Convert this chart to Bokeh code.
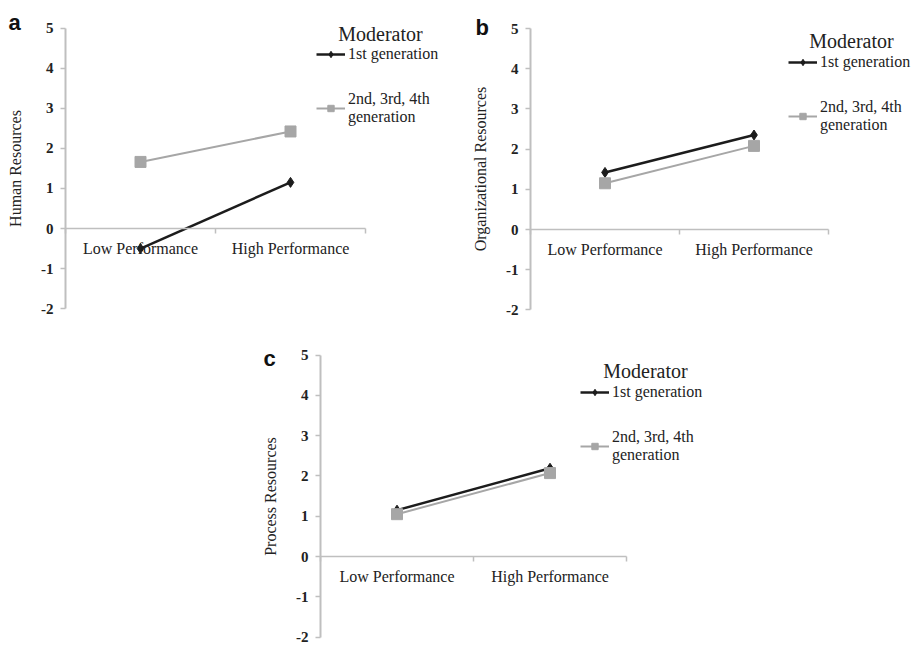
from bokeh.plotting import figure
from bokeh.layouts import column, row
from bokeh.models import (Range1d, FixedTicker, Label, Legend, LegendItem, Spacer)
from bokeh.embed import file_html
from bokeh.resources import INLINE

# ---------------- data ----------------
categories = ["Low Performance", "High Performance"]
series_names = ["1st generation", "2nd, 3rd, 4th\ngeneration"]
y_ticks = [-2, -1, 0, 1, 2, 3, 4, 5]

a_first = [-0.50, 1.15]
a_later = [1.66, 2.42]
b_first = [1.42, 2.35]
b_later = [1.15, 2.08]
c_first = [1.15, 2.19]
c_later = [1.05, 2.07]

panel_letters = ["a", "b", "c"]
y_titles = ["Human Resources", "Organizational Resources", "Process Resources"]
legend_title = "Moderator"

SERIF = "Liberation Serif"
AXIS_GRAY = "#bfbfbf"
BLACK = "#1c1c1c"
GRAY = "#a6a6a6"
TXT = "#222222"

x_pos = [i + 0.5 for i in range(len(categories))]


def make_panel(first, later, letter, ytitle, W, H, left, top,
               ox, sx, oy, sy, letter_xy, mod_xy, leg_xy):
    # ox, oy: screen position of data origin; sx, sy: px per unit
    xr = Range1d((left - ox) / sx, (left + W - ox) / sx)
    yr = Range1d((oy - (top + H)) / sy, (oy - top) / sy)
    p = figure(width=W, height=H, x_range=xr, y_range=yr,
               output_backend="svg", toolbar_location=None,
               min_border=0, min_border_left=0, min_border_right=0,
               min_border_top=0, min_border_bottom=0)
    p.outline_line_color = None
    p.grid.visible = False
    p.background_fill_color = "white"
    p.border_fill_color = "white"

    # x axis crossing at y = 0
    xa = p.xaxis[0]
    xa.fixed_location = 0
    xa.bounds = (0, len(categories))
    xa.ticker = FixedTicker(ticks=x_pos, minor_ticks=list(range(len(categories) + 1)))
    xa.major_label_overrides = {x: c for x, c in zip(x_pos, categories)}
    xa.axis_line_color = AXIS_GRAY
    xa.axis_line_width = 1.5
    xa.major_tick_out = 0
    xa.major_tick_in = 0
    xa.minor_tick_out = 5
    xa.minor_tick_in = 0
    xa.minor_tick_line_color = AXIS_GRAY
    xa.minor_tick_line_width = 1.5
    xa.major_label_standoff = 6
    xa.major_label_text_font = SERIF
    xa.major_label_text_font_size = "16px"
    xa.major_label_text_color = TXT

    # y axis at x = 0
    ya = p.yaxis[0]
    ya.fixed_location = 0
    ya.bounds = (min(y_ticks), max(y_ticks))
    ya.ticker = FixedTicker(ticks=y_ticks, minor_ticks=[])
    ya.major_label_overrides = {t: str(t) for t in y_ticks}
    ya.axis_line_color = AXIS_GRAY
    ya.axis_line_width = 2
    ya.major_tick_out = 5
    ya.major_tick_in = 0
    ya.major_tick_line_color = AXIS_GRAY
    ya.major_tick_line_width = 1.5
    ya.major_label_standoff = 7
    ya.major_label_text_font = SERIF
    ya.major_label_text_font_style = "bold"
    ya.major_label_text_font_size = "15px"
    ya.major_label_text_color = TXT
    ya.axis_label = ytitle
    ya.axis_label_text_font = SERIF
    ya.axis_label_text_font_style = "normal"
    ya.axis_label_text_font_size = "16px"
    ya.axis_label_text_color = TXT
    ya.axis_label_standoff = 14

    l1 = p.line(x_pos, first, line_color=BLACK, line_width=2.5)
    m1 = p.scatter(x_pos, first, marker="diamond", size=10, fill_color=BLACK,
                   line_color=BLACK)
    l2 = p.line(x_pos, later, line_color=GRAY, line_width=2)
    m2 = p.scatter(x_pos, later, marker="square", size=11, fill_color=GRAY,
                   line_color=GRAY)

    legend = Legend(items=[LegendItem(label=series_names[0], renderers=[l1, m1]),
                           LegendItem(label=series_names[1], renderers=[l2, m2])],
                    location=leg_xy,
                    label_text_font=SERIF, label_text_font_size="16px",
                    label_text_font_style="normal", label_text_color=TXT)
    legend.border_line_color = None
    legend.background_fill_alpha = 0
    legend.padding = 0
    legend.margin = 0
    legend.spacing = 26
    legend.glyph_width = 29
    legend.glyph_height = 16
    legend.label_standoff = 3
    legend.label_height = 20
    p.add_layout(legend)

    p.add_layout(Label(x=letter_xy[0], y=letter_xy[1], x_units="screen",
                       y_units="screen", text=letter, text_font="Liberation Sans",
                       text_font_style="bold", text_font_size="22px",
                       text_color="#111111", text_baseline="alphabetic"))
    p.add_layout(Label(x=mod_xy[0], y=mod_xy[1], x_units="screen",
                       y_units="screen", text=legend_title, text_font=SERIF,
                       text_font_size="20px", text_color=TXT,
                       text_align="center", text_baseline="alphabetic"))
    return p


H1, H2 = 318, 330
pa = make_panel(a_first, a_later, panel_letters[0], y_titles[0], 463, H1, 0, 0,
                65, 150, 228, 40.1, (8, 296), (380, 285), (316, 192))
pb = make_panel(b_first, b_later, panel_letters[1], y_titles[1], 456, H1, 463, 0,
                530, 149, 229, 40.2, (12, 291), (388, 278), (325, 184))
pc = make_panel(c_first, c_later, panel_letters[2], y_titles[2], 480, H2, 240, 318,
                320, 153, 556, 40.3, (23, 290), (405, 278), (340, 184))

layout = column(row(pa, pb), row(Spacer(width=240, height=H2), pc))

open("out.html", "w").write(file_html(layout, INLINE))
